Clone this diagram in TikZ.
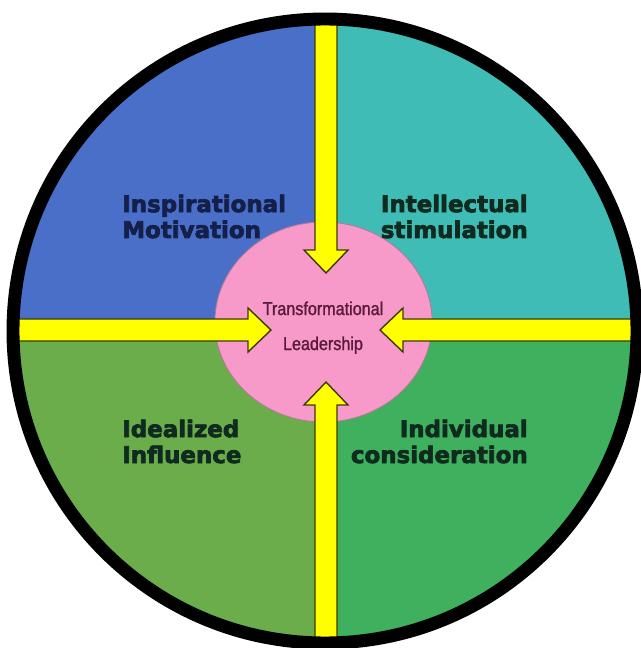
\documentclass[tikz,border=0pt]{standalone}
\usepackage{fontspec}
\setmainfont{DejaVu Sans}[BoldFeatures={FakeBold=3}]
\newfontfamily\hubfont{Liberation Sans}[FakeStretch=0.87, FakeBold=1.2]
\definecolor{quadim}{HTML}{4A6FC8}
\definecolor{quadis}{HTML}{3EBCB5}
\definecolor{quadii}{HTML}{6CAD4B}
\definecolor{quadic}{HTML}{3FB05E}
\definecolor{hubfill}{HTML}{F799C9}
\definecolor{hubline}{HTML}{B07A95}
\definecolor{hubtext}{HTML}{5A1A3A}
\definecolor{barfill}{HTML}{FFFF00}
\definecolor{barline}{HTML}{3D3A12}
\definecolor{imtext}{HTML}{14204A}
\definecolor{qtext}{HTML}{0F2A1E}
\usetikzlibrary{calc, positioning, shapes.geometric}

\begin{document}
\begin{tikzpicture}[x=0.025cm, y=-0.025cm,
  quad/.style={font=\bfseries\fontsize{16.3}{18.4}\selectfont, inner sep=0pt},
  hubtxt/.style={font=\hubfont\fontsize{13.2}{14}\selectfont, text=hubtext, inner sep=0pt},
  barrow/.style={fill=barfill, draw=barline, line width=1pt, line join=miter},
]
\useasboundingbox (0,0) rectangle (640,648);
\coordinate (c) at (325,331);
\coordinate (mid) at (326,330);

\begin{scope}
\clip (c) circle (316);
% Quadrants
\fill[quadim] (0,0) rectangle (326,331);
\fill[quadis] (326,0) rectangle (640,331);
\fill[quadii] (0,331) rectangle (326,648);
\fill[quadic] (326,331) rectangle (640,648);

% Hub
\node[ellipse, draw=hubline, fill=hubfill, line width=0.6pt, inner sep=0pt,
      minimum width=5.43cm, minimum height=5cm] (hub) at (323.5,322) {};

% Arrows into the hub
\foreach \ang/\tip in {90/57, 270/52, 180/55, 0/54}
  \draw[barrow, shift={(mid)}, rotate=\ang]
    (\tip,0) -- ({\tip+23},-22) -- ({\tip+23},-11) -- (340,-11)
    -- (340,11) -- ({\tip+23},11) -- ({\tip+23},22) -- cycle;
\end{scope}

% Rim
\draw[line width=9.2pt] (c) circle (312);

% Labels (base = last line)
\node[quad, text=imtext, anchor=base west, align=left] (im) at (122,238) {Inspirational\\Motivation};
\node[quad, text=qtext, anchor=base east, align=right] (is) at (528,238) {Intellectual\\stimulation};
\node[quad, text=qtext, anchor=base west, align=left] (ii) at (122,463) {Idealized\\Influence};
\node[quad, text=qtext, anchor=base east, align=right] (ic) at (528,463) {Individual\\consideration};

\node[hubtxt, anchor=base] (tl) at (323,315) {Transformational};
\node[hubtxt, anchor=base] (ld) at (323,350) {Leadership};

\end{tikzpicture}
\end{document}
